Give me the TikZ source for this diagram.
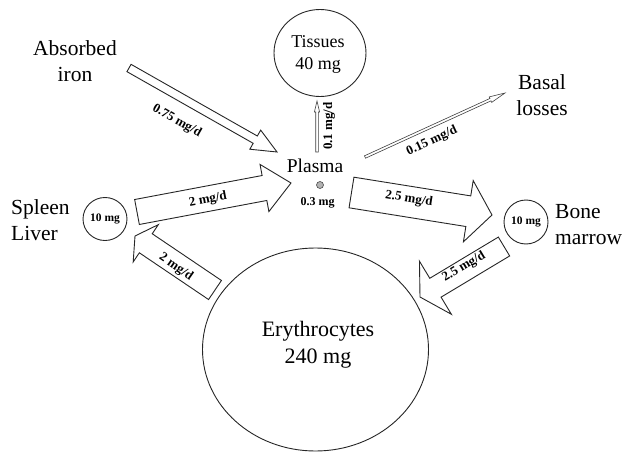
\documentclass[tikz,border=0pt]{standalone}
\usepackage{fontspec}
\setmainfont{Liberation Serif}
\usetikzlibrary{calc,shapes.geometric}
\tikzset{
  pool/.style={draw=black!85, line width=0.9pt, ellipse, inner sep=0pt},
  bigtxt/.style={font=\fontsize{21.5}{26}\selectfont, align=center, inner sep=0pt},
  midtxt/.style={font=\fontsize{18}{22}\selectfont, align=center, inner sep=0pt},
  lbl/.style={font=\fontsize{13}{15}\selectfont\bfseries, inner sep=0pt},
  small/.style={font=\fontsize{11.5}{13}\selectfont\bfseries, inner sep=0pt},
  blockarr/.style={draw=black!85, line width=0.9pt, fill=white, line join=miter},
  thinarr/.style={draw=black!75, line width=0.6pt, fill=white, line join=miter}
}
\newcommand\blockarrow[6][blockarr]{%
  \path ($(#3)!#6!(#2)$) coordinate (ba-h);
  \draw[#1] ($(#2)!#4!90:(#3)$) -- ($(ba-h)!#4!90:(#3)$) -- ($(ba-h)!#5!90:(#3)$) -- (#3)
     -- ($(ba-h)!#5!-90:(#3)$) -- ($(ba-h)!#4!-90:(#3)$) -- ($(#2)!#4!-90:(#3)$) -- cycle;
}
\begin{document}
\begin{tikzpicture}[x=1pt,y=-1pt]
\useasboundingbox (0,0) rectangle (624,452);
% pools
\node[pool, minimum width=92pt, minimum height=87pt] (tis) at (320,53) {};
\node[midtxt] (tistxt) at (318,54) {Tissues\\40 mg};
\node[pool, minimum width=44pt, minimum height=43pt] (spl) at (105,219) {};
\node[small] (spltxt) at (105,219) {10 mg};
\node[pool, minimum width=44pt, minimum height=44pt] (bm) at (526,222) {};
\node[small] (bmtxt) at (526,222) {10 mg};
\node[pool, minimum width=226pt, minimum height=203pt] (ery) at (315.5,349.5) {};
\node[bigtxt, font=\fontsize{22}{27}\selectfont] (erytxt) at (318,345) {Erythrocytes\\240 mg};
\node[circle, draw=black!70, fill=black!30, line width=0.6pt, minimum size=7pt, inner sep=0pt] (pl) at (320,185) {};
\node[midtxt, font=\fontsize{19.5}{22}\selectfont] (pltxt) at (315,166) {Plasma};
\node[small, font=\fontsize{12}{14}\selectfont\bfseries] (pl03) at (317.5,203) {0.3 mg};
% outer texts
\node[bigtxt] (abs) at (75,61) {Absorbed\\iron};
\node[bigtxt] (basal) at (542,95) {Basal\\losses};
\node[bigtxt, align=left, anchor=west] (spltx) at (11,220) {Spleen\\Liver};
\node[bigtxt, align=left, anchor=west] (bmtx) at (555,225) {Bone\\marrow};
% arrow coordinates
\coordinate (a1t) at (129,68);   \coordinate (a1h) at (277,152);
\coordinate (a2t) at (317,152);  \coordinate (a2h) at (317,101);
\coordinate (a3t) at (365,157);  \coordinate (a3h) at (505,93);
\coordinate (a4t) at (137,212);  \coordinate (a4h) at (291,183);
\coordinate (a5t) at (351.5,192.5); \coordinate (a5h) at (492,215);
\coordinate (a6t) at (504,246.5); \coordinate (a6h) at (420,297);
\coordinate (a7t) at (215,290);  \coordinate (a7h) at (135,236);
% arrows
\blockarrow{a1t}{a1h}{4.2pt}{11pt}{25pt}
\blockarrow[thinarr]{a2t}{a2h}{1.3pt}{2.6pt}{11pt}
\blockarrow[thinarr]{a3t}{a3h}{1.3pt}{3pt}{16pt}
\blockarrow{a4t}{a4h}{12.7pt}{24pt}{27pt}
\blockarrow{a5t}{a5h}{15.5pt}{31pt}{24pt}
\blockarrow{a6t}{a6h}{11pt}{31pt}{18pt}
\blockarrow{a7t}{a7h}{11.5pt}{22.5pt}{13pt}
% labels
\node[lbl, rotate=-29.6] (l1) at (177,121) {0.75 mg/d};
\node[lbl, rotate=90] (l2) at (329,126) {0.1 mg/d};
\node[lbl, rotate=24.9] (l3) at (432,141) {0.15 mg/d};
\node[lbl, rotate=10.7] (l4) at (208,200) {2 mg/d};
\node[lbl, rotate=-9.3] (l5) at (409,199) {2.5 mg/d};
\node[lbl, rotate=31] (l6) at (464,267) {2.5 mg/d};
\node[lbl, rotate=-35] (l7) at (176,267) {2 mg/d};
\end{tikzpicture}
\end{document}
